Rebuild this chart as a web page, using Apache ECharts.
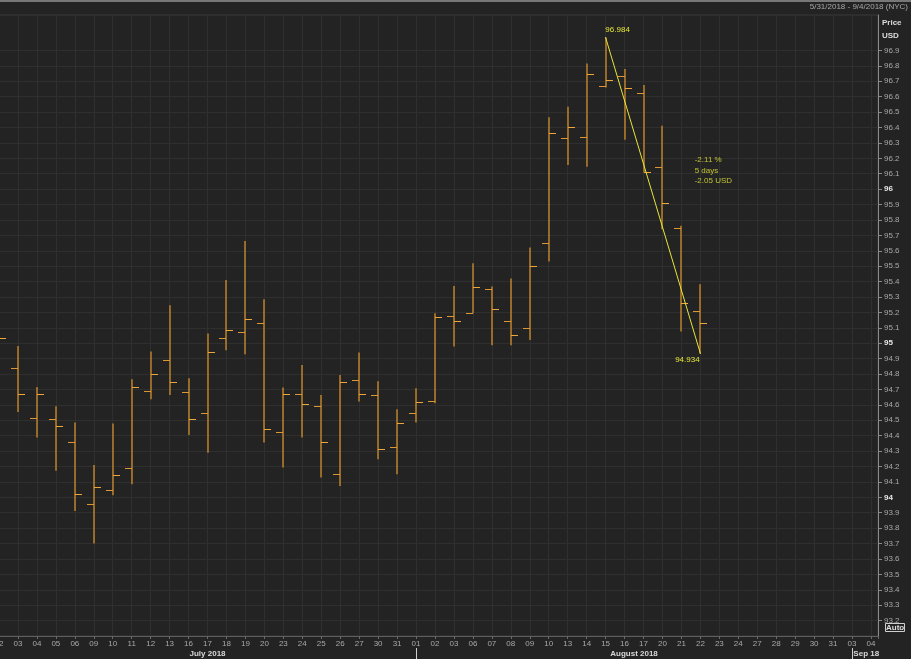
<!DOCTYPE html>
<html>
<head>
<meta charset="utf-8">
<script src="https://cdn.jsdelivr.net/npm/echarts@6/dist/echarts.min.js"></script>
<style>
  html, body { margin: 0; padding: 0; background: #232323; }
  #chart { width: 911px; height: 659px; }
</style>
</head>
<body>
<div id="chart"></div>
<script>
// ---- data ----
const dayLabels = ['02','03','04','05','06','09','10','11','12','13','16','17','18','19','20','23','24','25','26','27','30','31',
  '01','02','03','06','07','08','09','10','13','14','15','16','17','20','21','22','23','24','27','28','29','30','31',
  '03','04'];
const monthLabels = ['July 2018', 'August 2018', 'Sep 18'];
const rangeText = '5/31/2018 - 9/4/2018 (NYC)';
const unitText = 'Price\nUSD';

const opens  = [95.000, 94.840, 94.515, 94.505, 94.362, 93.959, 94.050, 94.190, 94.693, 94.894,
                94.686, 94.547, 95.032, 95.076, 95.130, 94.427, 94.669, 94.593, 94.154, 94.762,
                94.662, 94.329, 94.550, 94.628, 95.177, 95.199, 95.351, 95.145, 95.102, 95.649,
                96.329, 96.336, 96.671, 96.732, 96.623, 96.141, 95.749, 95.208];
const highs  = [95.100, 94.982, 94.716, 94.591, 94.485, 94.210, 94.479, 94.766, 94.946, 95.247,
                94.773, 95.063, 95.411, 95.664, 95.286, 94.712, 94.859, 94.664, 94.794, 94.940,
                94.753, 94.571, 94.708, 95.195, 95.372, 95.519, 95.368, 95.420, 95.621, 96.466,
                96.534, 96.816, 96.984, 96.779, 96.675, 96.411, 95.762, 95.383];
const lows   = [94.930, 94.554, 94.388, 94.173, 93.911, 93.701, 94.013, 94.084, 94.636, 94.664,
                94.405, 94.290, 94.955, 94.929, 94.355, 94.193, 94.388, 94.128, 94.073, 94.621,
                94.247, 94.149, 94.485, 94.610, 94.979, 95.195, 94.987, 94.987, 95.021, 95.531,
                96.156, 96.145, 96.660, 96.320, 96.108, 95.740, 95.076, 94.934];
const closes = [95.037, 94.671, 94.671, 94.466, 94.024, 94.069, 94.145, 94.716, 94.803, 94.747,
                94.505, 94.944, 95.084, 95.154, 94.446, 94.669, 94.608, 94.362, 94.747, 94.671,
                94.314, 94.485, 94.619, 95.173, 95.145, 95.362, 95.221, 95.052, 95.502, 96.364,
                96.401, 96.747, 96.708, 96.656, 96.112, 95.907, 95.258, 95.131];

// trend annotation endpoints (bar indices)
const trendFrom = 32, trendTo = 37;

// ---- layout / style constants ----
const monthLabelAt = [11, 33.5, 45.75];
const monthStartAt = [22, 45];
const annotAt = [36.7, 96.12];
const FONT = 'Liberation Sans';
const barColor = '#e2982c';
const openColor = '#dc9634';
const closeColor = '#eea63a';
const trendColor = '#e6e63a';

// y tick positions shown on the price axis (93.2 .. 96.9)
const yTicks = [];
for (let k = 932; k <= 969; k++) yTicks.push(k / 10);

const ohlc = opens.map((o, i) => [i, o, highs[i], lows[i], closes[i]]);
const lastClose = closes[closes.length - 1];
const startV = highs[trendFrom], endV = lows[trendTo];
const chg = endV - startV;
const annotText = (chg / startV * 100).toFixed(2) + ' %\n' + (trendTo - trendFrom) + ' days\n' + chg.toFixed(2) + ' USD';

const chart = echarts.init(document.getElementById('chart'), null, { renderer: 'canvas' });

const option = {
  animation: false,
  backgroundColor: '#232323',
  textStyle: { fontFamily: FONT },
  graphic: [
    { type: 'rect', shape: { x: 0, y: 0, width: 911, height: 2 }, style: { fill: '#777' } }
  ],
  title: [
    { text: rangeText, right: 3, top: 3, padding: 0,
      textStyle: { color: '#a8a8a8', fontSize: 8, fontWeight: 'normal', fontFamily: FONT } },
    { text: unitText, left: 882, top: 16, padding: 0,
      textStyle: { color: '#dcdcdc', fontSize: 8, fontWeight: 'bold', lineHeight: 13, fontFamily: FONT } },
    { text: 'Auto', left: 885, top: 623, padding: [1, 1, 0, 1], borderColor: '#cfcfcf', borderWidth: 1,
      textStyle: { color: '#dcdcdc', fontSize: 8, fontWeight: 'bold', fontFamily: FONT } }
  ],
  grid: { left: -1, right: 33, top: 15, bottom: 23, show: true, borderColor: '#3a3a3a', borderWidth: 1,
          containLabel: false, outerBoundsMode: 'none' },
  xAxis: [
    {
      type: 'value', min: 0, max: 46.37, interval: 1,
      axisLine: { show: true, onZero: false, lineStyle: { color: '#5e5e5e' } },
      axisTick: { show: true, length: 3, lineStyle: { color: '#6a6a6a' } },
      splitLine: { show: true, lineStyle: { color: '#2f2f2f', width: 1 } },
      axisLabel: {
        color: '#a8a8a8', fontSize: 8, margin: 4, fontFamily: FONT, hideOverlap: false,
        formatter: v => (Number.isInteger(v) && dayLabels[v] !== undefined) ? dayLabels[v] : ''
      }
    },
    {
      type: 'value', min: 0, max: 46.37, position: 'bottom', offset: 12,
      axisLine: { show: false, onZero: false },
      splitLine: { show: false },
      axisTick: { show: true, customValues: monthStartAt, length: 11, inside: false, lineStyle: { color: '#cfcfcf' } },
      axisLabel: {
        customValues: monthLabelAt, color: '#d8d8d8', fontSize: 8, fontWeight: 'bold', margin: 2, fontFamily: FONT,
        formatter: v => { const k = monthLabelAt.indexOf(v); return k >= 0 ? monthLabels[k] : ''; }
      }
    }
  ],
  yAxis: {
    type: 'value', position: 'right', min: 93.1, max: 97.13, interval: 0.1,
    axisLine: { show: true, onZero: false, lineStyle: { color: '#8a8a8a' } },
    axisTick: { show: true, length: 4, customValues: yTicks, lineStyle: { color: '#8a8a8a' } },
    splitLine: { show: true, lineStyle: { color: '#2f2f2f', width: 1 } },
    axisLabel: {
      color: '#a8a8a8', fontSize: 8, margin: 6, fontFamily: FONT, hideOverlap: false,
      formatter: v => {
        const r = Math.round(v * 10) / 10;
        if (Math.abs(r - v) > 1e-6 || r < 93.15 || r > 96.95) return '';
        return Number.isInteger(r) ? '{b|' + r + '}' : r.toFixed(1);
      },
      rich: { b: { color: '#e6e6e6', fontWeight: 'bold', fontSize: 8, fontFamily: FONT } }
    }
  },
  series: [
    {
      type: 'custom',
      name: 'OHLC',
      data: ohlc,
      encode: { x: 0, y: [1, 2, 3, 4] },
      clip: true,
      renderItem: (params, api) => {
        const i = api.value(0);
        const pH = api.coord([i, api.value(2)]);
        const pL = api.coord([i, api.value(3)]);
        const pO = api.coord([i, api.value(1)]);
        const pC = api.coord([i, api.value(4)]);
        const x = Math.round(pH[0]);
        const w = Math.round(api.size([1, 0])[0] * 0.37);
        const yo = Math.round(pO[1]) + 0.5, yc = Math.round(pC[1]) + 0.5;
        return {
          type: 'group',
          children: [
            { type: 'line', shape: { x1: x, y1: pH[1], x2: x, y2: pL[1] }, style: { stroke: barColor, lineWidth: 1.2 } },
            { type: 'line', shape: { x1: x - w, y1: yo, x2: x, y2: yo }, style: { stroke: openColor, lineWidth: 1 } },
            { type: 'line', shape: { x1: x, y1: yc, x2: x + w, y2: yc }, style: { stroke: closeColor, lineWidth: 1 } }
          ]
        };
      },
      markLine: {
        silent: true, symbol: 'none',
        lineStyle: { opacity: 0 },
        label: {
          show: true, position: 'end', distance: 0,
          formatter: () => lastClose.toFixed(3),
          backgroundColor: '#f5a623', color: '#4a1500', fontWeight: 'bold', fontSize: 9,
          padding: [2, 2, 1, 2], fontFamily: FONT
        },
        data: [{ yAxis: lastClose }]
      }
    },
    {
      type: 'line',
      name: 'trend',
      data: [
        { value: [trendFrom, startV], label: { position: 'top', offset: [12, 2] } },
        { value: [trendTo, endV], label: { position: 'bottom', offset: [-13, -3] } }
      ],
      symbol: 'circle', symbolSize: 1,
      lineStyle: { color: trendColor, width: 1 },
      itemStyle: { color: trendColor },
      label: {
        show: true, color: trendColor, fontSize: 8, fontFamily: FONT,
        formatter: p => p.value[1].toFixed(3)
      },
      z: 5
    },
    {
      type: 'scatter',
      name: 'annot',
      data: [{ value: annotAt,
        label: { show: true, position: 'right', distance: 0, formatter: annotText,
          color: trendColor, fontSize: 8, lineHeight: 10.5, fontFamily: FONT } }],
      symbolSize: 0,
      silent: true
    }
  ]
};
chart.setOption(option);
</script>
</body>
</html>
